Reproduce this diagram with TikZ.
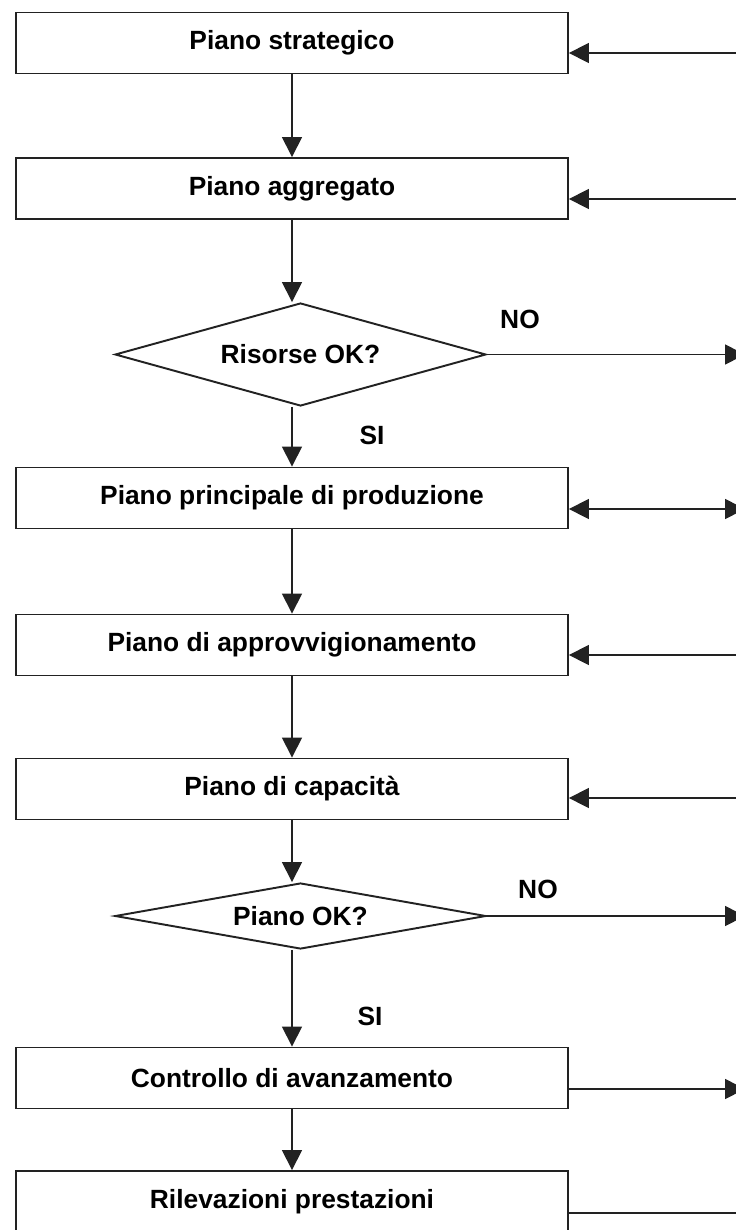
\documentclass[tikz,border=0pt]{standalone}
\usepackage{fontspec}
\setmainfont{Liberation Sans}
\usetikzlibrary{arrows.meta, positioning, shapes.geometric}
\definecolor{LineGray}{HTML}{222222}

\begin{document}
\begin{tikzpicture}[x=0.02cm, y=-0.02cm,
    stepbox/.style={draw=LineGray, line width=1.1pt, minimum width=11.04cm,
      minimum height=1.22cm, inner sep=0pt, font=\bfseries\fontsize{15}{18}\selectfont},
    check/.style={diamond, draw=LineGray, line width=1.1pt, inner sep=0pt,
      minimum width=7.42cm, font=\bfseries\fontsize{15}{18}\selectfont},
    flow/.style={LineGray, line width=0.9pt, -{Triangle[length=0.4cm, width=0.4cm]}},
    tag/.style={font=\bfseries\fontsize{15}{18}\selectfont}]
  \clip (0,0) rectangle (736,1230);
  \fill[white] (0,0) rectangle (736,1230);

  \node[stepbox] (strat) at (292,43) {Piano strategico};
  \node[stepbox] (aggr) at (292,188.5) {Piano aggregato};
  \node[check, aspect=3.6, minimum height=2.06cm] (risorse) at (300.5,354.5) {Risorse OK?};
  \node[stepbox] (mps) at (292,498) {Piano principale di produzione};
  \node[stepbox] (approv) at (292,645) {Piano di approvvigionamento};
  \node[stepbox] (capac) at (292,789) {Piano di capacità};
  \node[check, aspect=5.6, minimum height=1.32cm] (pianook) at (300.5,916) {Piano OK?};
  \node[stepbox] (avanz) at (292,1078) {Controllo di avanzamento};
  \node[stepbox] (rilev) at (292,1201.5) {Rilevazioni prestazioni};

  \node[tag] (no1) at (520,319) {NO};
  \node[tag] (si1) at (372,435) {SI};
  \node[tag] (no2) at (538,889) {NO};
  \node[tag] (si2) at (370,1016) {SI};

  \coordinate (rstrat) at (740,53);
  \coordinate (raggr) at (740,199);
  \coordinate (rrisorse) at (745,354.5);
  \coordinate (rmps) at (745,509);
  \coordinate (rapprov) at (740,655);
  \coordinate (rcapac) at (740,798);
  \coordinate (rpianook) at (745,916);
  \coordinate (ravanz) at (745,1089);
  \coordinate (rrilev) at (740,1213);

  \draw[flow] (strat.south) -- (aggr.north);
  \draw[flow] (aggr.south) -- (risorse.north -| aggr.south);
  \draw[flow] (risorse.south -| mps.north) -- (mps.north);
  \draw[flow] (mps.south) -- (approv.north);
  \draw[flow] (approv.south) -- (capac.north);
  \draw[flow] (capac.south) -- (pianook.north -| capac.south);
  \draw[flow] (pianook.south -| avanz.north) -- (avanz.north);
  \draw[flow] (avanz.south) -- (rilev.north);

  \draw[flow] (rstrat) -- (strat.east |- rstrat);
  \draw[flow] (raggr) -- (aggr.east |- raggr);
  \draw[flow] (risorse.east) -- (rrisorse);
  \draw[flow, {Triangle[length=0.4cm, width=0.4cm]}-{Triangle[length=0.4cm, width=0.4cm]}] (mps.east |- rmps) -- (rmps);
  \draw[flow] (rapprov) -- (approv.east |- rapprov);
  \draw[flow] (rcapac) -- (capac.east |- rcapac);
  \draw[flow] (pianook.east) -- (rpianook);
  \draw[flow] (avanz.east |- ravanz) -- (ravanz);
  \draw[LineGray, line width=0.9pt] (rilev.east |- rrilev) -- (rrilev);
\end{tikzpicture}
\end{document}
